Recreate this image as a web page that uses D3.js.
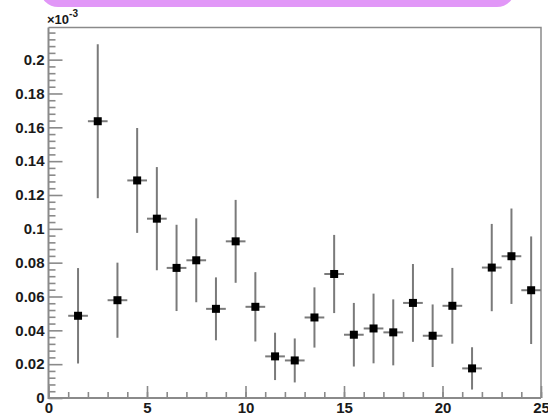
<!DOCTYPE html>
<html>
<head>
<meta charset="utf-8">
<script src="https://cdn.jsdelivr.net/npm/d3@7"></script>
<style>
  body { margin: 0; background: #fff; }
  svg { display: block; font-family: "Liberation Sans", Arial, sans-serif; }
</style>
</head>
<body>
<script>
// bin centres (x) and contents in units of 1e-3, with symmetric errors
var binCenters = [1.5, 2.5, 3.5, 4.5, 5.5, 6.5, 7.5, 8.5, 9.5, 10.5, 11.5, 12.5,
                  13.5, 14.5, 15.5, 16.5, 17.5, 18.5, 19.5, 20.5, 21.5, 22.5, 23.5, 24.5];
var values = [0.0486, 0.1636, 0.0578, 0.1286, 0.106, 0.0769, 0.0814, 0.0527, 0.0926, 0.0539, 0.0246, 0.0222,
              0.0476, 0.0733, 0.0374, 0.0411, 0.0388, 0.0562, 0.0368, 0.0545, 0.0175, 0.0771, 0.0838, 0.0637];
var errors = [0.0282, 0.0455, 0.0222, 0.031, 0.0305, 0.0255, 0.0248, 0.0186, 0.0245, 0.0205, 0.014, 0.013,
              0.0178, 0.0231, 0.0188, 0.0206, 0.0195, 0.023, 0.0185, 0.0224, 0.0125, 0.0258, 0.0282, 0.0318];
var binWidth = 1;

var xTicks = [0, 5, 10, 15, 20, 25];
var yTicks = [0, 0.02, 0.04, 0.06, 0.08, 0.1, 0.12, 0.14, 0.16, 0.18, 0.2];
var xMinorTicks = [0,1,2,3,4,5,6,7,8,9,10,11,12,13,14,15,16,17,18,19,20,21,22,23,24,25];
var yMinorTicks = [0.004, 0.008, 0.012, 0.016, 0.024, 0.028, 0.032, 0.036, 0.044, 0.048, 0.052, 0.056,
                   0.064, 0.068, 0.072, 0.076, 0.084, 0.088, 0.092, 0.096, 0.104, 0.108, 0.112, 0.116,
                   0.124, 0.128, 0.132, 0.136, 0.144, 0.148, 0.152, 0.156, 0.164, 0.168, 0.172, 0.176,
                   0.184, 0.188, 0.192, 0.196, 0.204, 0.208, 0.212, 0.216];

var width = 548,
    height = 417;
// plot frame in pixels (don't call these top/left: window.top is taken)
var padL = 48.5, padR = 541, padT = 27.5, padB = 398;
var axisColor = "#8a8a8a";

var svg = d3.select("body").append("svg").attr("width", width).attr("height", height);

var x = d3.scaleLinear().domain([0, 25]).range([padL, padR]);
var y = d3.scaleLinear().domain([0, 0.219]).range([padB, padT]);

// pink title box, cut off by the top of the canvas
svg.append("rect")
    .attr("x", 40).attr("y", -30)
    .attr("width", 475).attr("height", 37)
    .attr("rx", 18)
    .style("fill", "#e197f7");

// frame (top & right)
svg.append("path")
    .attr("d", "M" + padL + "," + padT + "H" + padR + "V" + padB)
    .style("fill", "none").style("stroke", axisColor).style("stroke-width", 1.5);

// minor ticks
var xMinor = svg.append("g").attr("transform", "translate(0," + padB + ")")
    .call(d3.axisBottom(x).tickValues(xMinorTicks).tickSize(-6).tickFormat(""));
var yMinor = svg.append("g").attr("transform", "translate(" + padL + ",0)")
    .call(d3.axisLeft(y).tickValues(yMinorTicks).tickSize(-7).tickFormat(""));

// major ticks + labels
var xAxis = svg.append("g").attr("transform", "translate(0," + padB + ")")
    .call(d3.axisBottom(x).tickValues(xTicks).tickSize(-12).tickPadding(4).tickFormat(d3.format("d")));
var yAxis = svg.append("g").attr("transform", "translate(" + padL + ",0)")
    .call(d3.axisLeft(y).tickValues(yTicks).tickSize(-14).tickPadding(4).tickFormat(d3.format("~g")));

[xMinor, yMinor, xAxis, yAxis].forEach(g => {
    g.select(".domain").remove();
    g.selectAll("line").style("stroke", axisColor).style("stroke-width", 1.6);
    g.selectAll("text")
        .style("font-family", "'Liberation Sans', Arial, sans-serif")
        .style("font-size", "15px")
        .style("font-weight", "bold")
        .style("fill", "#1a1a1a");
});

// axis lines
svg.append("path")
    .attr("d", "M" + padL + "," + padT + "V" + padB + "H" + padR)
    .style("fill", "none").style("stroke", axisColor).style("stroke-width", 2);

// x10^-3 exponent label
var expo = svg.append("text")
    .attr("x", 47).attr("y", 24)
    .style("font-size", "13px").style("font-weight", "bold").style("fill", "#1a1a1a");
expo.append("tspan").text("\u00d710");
expo.append("tspan").attr("dy", -7).style("font-size", "10px").text("-3");

// error bars and markers
var points = svg.append("g").selectAll("g").data(values).enter().append("g");

points.append("line")
    .attr("x1", (d, i) => x(binCenters[i])).attr("x2", (d, i) => x(binCenters[i]))
    .attr("y1", (d, i) => y(d - errors[i])).attr("y2", (d, i) => y(d + errors[i]))
    .style("stroke", "#7a7a7a").style("stroke-width", 2);

points.append("line")
    .attr("x1", (d, i) => x(binCenters[i] - binWidth / 2)).attr("x2", (d, i) => x(binCenters[i] + binWidth / 2))
    .attr("y1", d => y(d)).attr("y2", d => y(d))
    .style("stroke", "#7a7a7a").style("stroke-width", 2);

points.append("rect")
    .attr("x", (d, i) => x(binCenters[i]) - 4)
    .attr("y", d => y(d) - 4)
    .attr("width", 8).attr("height", 8)
    .style("fill", "#000");
</script>
</body>
</html>
